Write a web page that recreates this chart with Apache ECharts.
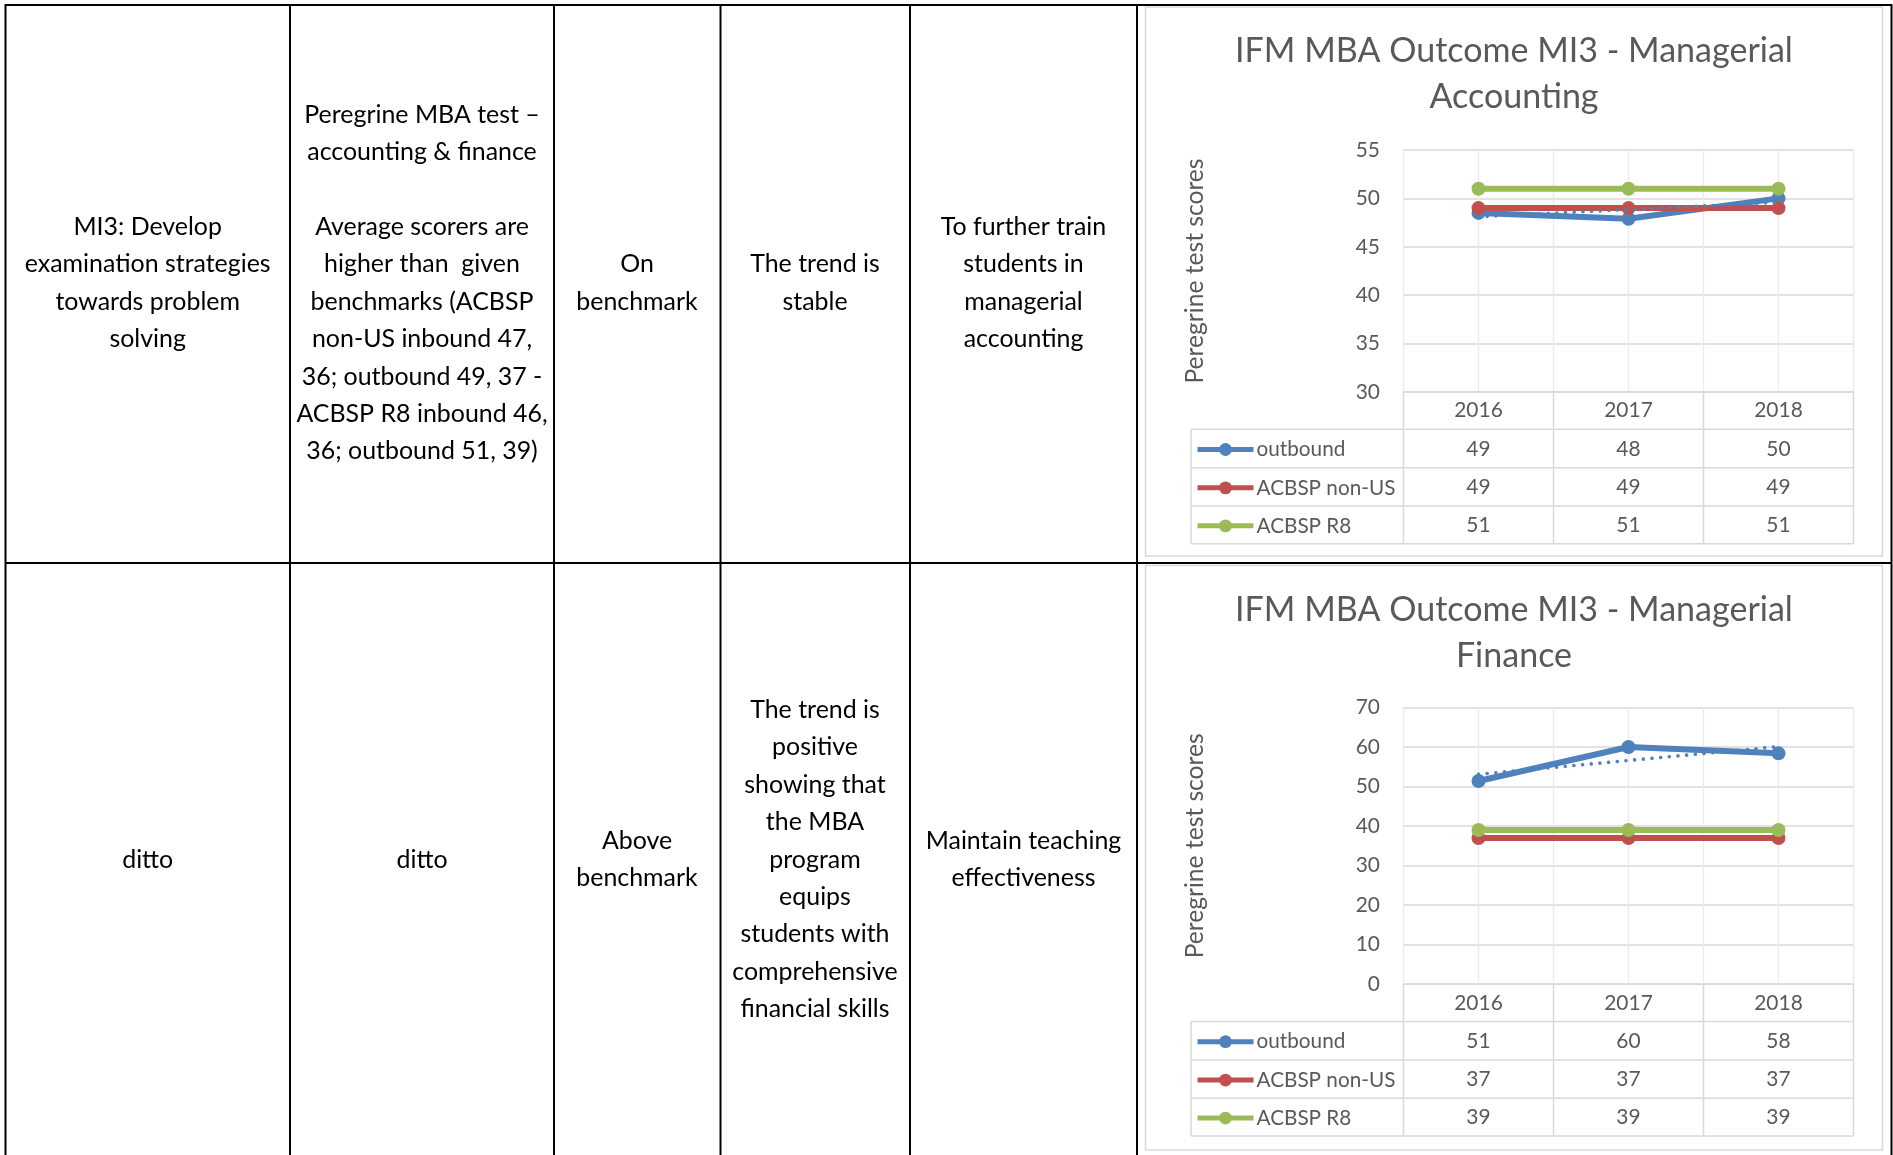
<!DOCTYPE html>
<html><head><meta charset="utf-8">
<script src="https://cdn.jsdelivr.net/npm/echarts@6/dist/echarts.min.js"></script>
<style>html,body{margin:0;padding:0;background:#fff;}#c{width:1893px;height:1155px;}</style>
</head><body><div id="c"></div>
<script>
// ---------- data ----------
const years = ['2016', '2017', '2018'];
const seriesNames = ['outbound', 'ACBSP non-US', 'ACBSP R8'];
const accOutbound = [48.5, 47.9, 50.0];
const accNonUS = [49, 49, 49];
const accR8 = [51, 51, 51];
const accTrend = [48.1, 49.6];      // dotted linear trend of outbound, read at 2016 and 2018
const finOutbound = [51.4, 60.0, 58.4];
const finNonUS = [37, 37, 37];
const finR8 = [39, 39, 39];
const finTrend = [53.1, 60.1];
const accTicks = { min: 30, max: 55, interval: 5 };
const finTicks = { min: 0, max: 70, interval: 10 };
const chartTitles = ['IFM MBA Outcome MI3 - Managerial\nAccounting', 'IFM MBA Outcome MI3 - Managerial\nFinance'];
const yAxisName = 'Peregrine test scores';
const row1Cells = [
  'MI3: Develop\nexamination strategies\ntowards problem\nsolving',
  'Peregrine MBA test \u2013\naccounting & finance\n\nAverage scorers are\nhigher than  given\nbenchmarks (ACBSP\nnon-US inbound 47,\n36; outbound 49, 37 -\nACBSP R8 inbound 46,\n36; outbound 51, 39)',
  'On\nbenchmark',
  'The trend is\nstable',
  'To further train\nstudents in\nmanagerial\naccounting'
];
const row2Cells = [
  'ditto',
  'ditto',
  'Above\nbenchmark',
  'The trend is\npositive\nshowing that\nthe MBA\nprogram\nequips\nstudents with\ncomprehensive\nfinancial skills',
  'Maintain teaching\neffectiveness'
];

// ---------- styles / layout ----------
const FAM = 'Lato';
const cv = document.createElement('canvas').getContext('2d');
function fit(t, w) { cv.font = '100px ' + FAM; return +(100 * w / cv.measureText(t).width).toFixed(2); }
const fsBody = fit('examination strategies', 246);
const fsTitle = fit('IFM MBA Outcome MI3 - Managerial', 558);
const fsTick = fit('2016', 48.5);
const fsLegend = fit('ACBSP non-US', 139);
const fsName = fit('Peregrine test scores', 225);
const colors = ['#4f81bd', '#c0504d', '#9bbb59'];
const GRAYTXT = '#595959';
const LINEGRAY = '#d9d9d9';

const L = { gridLeft: 1403.5, gridW: 450, tableLeft: 1191, boxL: 1145.5, boxR: 1882.5 };
const rowLines = [37.3, 75.7, 114, 151.7]; // offsets below plot bottom
const charts = [
  { title: chartTitles[0], vals: [accOutbound, accNonUS, accR8], trend: accTrend, ticks: accTicks,
    titleTop: 28.5, plotTop: 150, plotBottom: 392, boxTop: 7, boxBottom: 556 },
  { title: chartTitles[1], vals: [finOutbound, finNonUS, finR8], trend: finTrend, ticks: finTicks,
    titleTop: 586.8, plotTop: 707.5, plotBottom: 984.2, boxTop: 565.5, boxBottom: 1150 }
];

const option = {
  backgroundColor: '#fff',
  animation: false,
  title: [], grid: [], xAxis: [], yAxis: [], series: [], legend: [], graphic: []
};

const G = option.graphic;
function hline(x1, x2, y, color, w) { G.push({ type: 'line', silent: true, z: 1, shape: { x1, y1: y, x2, y2: y }, style: { stroke: color, lineWidth: w } }); }
function vline(x, y1, y2, color, w) { G.push({ type: 'line', silent: true, z: 1, shape: { x1: x, y1, x2: x, y2 }, style: { stroke: color, lineWidth: w } }); }

// outer table (black)
hline(5, 1892, 5, '#000', 2);
hline(5, 1892, 563, '#000', 2);
[5.5, 290, 554, 720.5, 910, 1137, 1891.5].forEach(x => vline(x, 4, 1155, '#000', 2));
const colCenters = [147.7, 422, 637, 815, 1023.5];
function cellTexts(arr, cy) {
  arr.forEach((t, i) => G.push({ type: 'text', silent: true, z: 5, x: colCenters[i], y: cy,
    style: { text: t, fill: '#000', fontFamily: FAM, fontSize: fsBody, lineHeight: 37.4, align: 'center', verticalAlign: 'middle' } }));
}
cellTexts(row1Cells, 283);
cellTexts(row2Cells, 859.5);

charts.forEach((c, k) => {
  // chart box
  G.push({ type: 'rect', silent: true, z: 0, shape: { x: L.boxL, y: c.boxTop, width: L.boxR - L.boxL, height: c.boxBottom - c.boxTop },
    style: { fill: 'none', stroke: LINEGRAY, lineWidth: 1.5 } });
  // data table lines
  const xs = [L.gridLeft, L.gridLeft + L.gridW / 3, L.gridLeft + 2 * L.gridW / 3, L.gridLeft + L.gridW];
  hline(L.gridLeft, L.gridLeft + L.gridW, c.plotBottom, LINEGRAY, 1.5);
  rowLines.forEach(o => hline(L.tableLeft, L.gridLeft + L.gridW, c.plotBottom + o, LINEGRAY, 1.5));
  vline(L.tableLeft, c.plotBottom + rowLines[0], c.plotBottom + rowLines[3], LINEGRAY, 1.5);
  xs.forEach(x => vline(x, c.plotBottom, c.plotBottom + rowLines[3], LINEGRAY, 1.5));

  option.title.push({ text: c.title, left: (L.boxL + L.boxR) / 2, top: c.titleTop, textAlign: 'center', padding: 0,
    textStyle: { fontFamily: FAM, fontSize: fsTitle, fontWeight: 'normal', color: GRAYTXT, lineHeight: 46 } });
  option.grid.push({ left: L.gridLeft, top: c.plotTop, width: L.gridW, height: c.plotBottom - c.plotTop });

  const xb = option.xAxis.length;
  // value x-axis (for gridlines at category centers and boundaries)
  option.xAxis.push({ type: 'value', gridIndex: k, min: -0.5, max: 2.5, interval: 0.5,
    axisLine: { show: false }, axisTick: { show: false }, axisLabel: { show: false },
    splitLine: { show: true, lineStyle: { color: '#ebebeb', width: 1.3 } } });
  // header row: years
  option.xAxis.push({ type: 'category', gridIndex: k, data: years, position: 'bottom',
    axisLine: { show: false }, axisTick: { show: false }, splitLine: { show: false },
    axisLabel: { margin: (rowLines[0]) / 2 - 12, fontFamily: FAM, fontSize: fsTick, color: GRAYTXT, lineHeight: 24 } });
  // data table rows
  c.vals.forEach((arr, i) => {
    const center = (rowLines[i] + rowLines[i + 1]) / 2;
    option.xAxis.push({ type: 'category', gridIndex: k, data: years, position: 'bottom', offset: center - 11.5,
      axisLine: { show: false }, axisTick: { show: false }, splitLine: { show: false },
      axisLabel: { margin: 0, fontFamily: FAM, fontSize: fsTick, color: GRAYTXT, lineHeight: 24,
        formatter: (v, idx) => String(Math.round(arr[idx])) } });
    // one legend entry per data-table row
    option.legend.push({ data: [seriesNames[i]], orient: 'vertical', left: L.tableLeft + 4,
      top: c.plotBottom + center - 9.5,
      itemWidth: 56, itemHeight: 16, padding: 0, selectedMode: false,
      lineStyle: { width: 5 },
      textStyle: { fontFamily: FAM, fontSize: fsLegend, color: GRAYTXT, padding: [0, 0, 0, -2] } });
  });
  option.yAxis.push({ type: 'value', gridIndex: k, min: c.ticks.min, max: c.ticks.max, interval: c.ticks.interval,
    name: yAxisName, nameLocation: 'middle', nameRotate: 90, nameGap: 196,
    nameTextStyle: { fontFamily: FAM, fontSize: fsName, color: GRAYTXT },
    axisLine: { show: false }, axisTick: { show: false },
    axisLabel: { margin: 23.5, fontFamily: FAM, fontSize: fsTick, color: GRAYTXT },
    splitLine: { show: true, lineStyle: { color: LINEGRAY, width: 1.5 } } });

  c.vals.forEach((arr, i) => {
    option.series.push({ type: 'line', name: seriesNames[i], xAxisIndex: xb, yAxisIndex: k,
      data: arr.map((v, j) => [j, v]), symbol: 'circle', symbolSize: 14, color: colors[i],
      lineStyle: { width: 6, color: colors[i] }, itemStyle: { color: colors[i] }, z: 3 + i });
  });
  option.series.push({ type: 'line', name: 'Linear (outbound)', xAxisIndex: xb, yAxisIndex: k,
    data: [[0, c.trend[0]], [2, c.trend[1]]], symbol: 'none', color: colors[0],
    lineStyle: { width: 3.6, color: colors[0], type: [0.01, 8.7], cap: 'round' }, z: 7 });
});

const chart = echarts.init(document.getElementById('c'), null, { renderer: 'canvas' });
chart.setOption(option);
</script>
</body></html>
